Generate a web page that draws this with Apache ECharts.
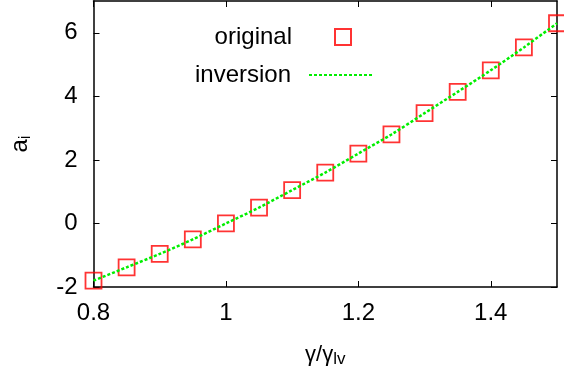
<!DOCTYPE html>
<html>
<head>
<meta charset="utf-8">
<script src="https://cdn.jsdelivr.net/npm/echarts@6/dist/echarts.min.js"></script>
<style>
  html, body { margin: 0; padding: 0; background: #fff; }
  #chart { width: 564px; height: 373px; }
</style>
</head>
<body>
<div id="chart"></div>
<script>
// 横轴 γ/γlv
const gammaRatio = [0.8, 0.85, 0.9, 0.95, 1.0, 1.05, 1.1, 1.15, 1.2, 1.25, 1.3, 1.35, 1.4, 1.45, 1.5];
// 原始系数
const originalValues = [-1.8, -1.38, -0.96, -0.5, 0.0, 0.5, 1.05, 1.6, 2.2, 2.8, 3.47, 4.14, 4.82, 5.54, 6.3];
// 反演结果
const inversionValues = [-1.8, -1.38, -0.96, -0.5, 0.0, 0.5, 1.05, 1.6, 2.2, 2.8, 3.47, 4.14, 4.82, 5.54, 6.3];
const xTicks = [0.8, 1, 1.2, 1.4];
const yTicks = [-2, 0, 2, 4, 6];

const font = 'Liberation Sans, Arial, sans-serif';
const chart = echarts.init(document.getElementById('chart'));

const pair = (xs, ys) => xs.map((x, i) => [x, ys[i]]);

const axisCommon = {
  axisLine: { show: true, onZero: false, lineStyle: { color: '#000', width: 1.5 } },
  axisTick: { show: true, inside: true, length: 6, lineStyle: { color: '#000', width: 1 } },
  splitLine: { show: false },
};

chart.setOption({
  animation: false,
  backgroundColor: '#fff',
  grid: { left: 92, right: 7, top: 1, bottom: 85, containLabel: false },
  legend: [
    {
      data: ['original'],
      align: 'right',
      padding: 0,
      right: 212,
      top: 25,
      itemWidth: 16,
      itemHeight: 16,
      textStyle: { fontFamily: font, fontSize: 24, color: '#000', padding: [0, 38, 0, 0] },
      selectedMode: false,
    },
    {
      data: ['inversion'],
      align: 'right',
      padding: 0,
      right: 190,
      top: 63,
      itemWidth: 64,
      itemHeight: 20,
      itemStyle: { opacity: 0 },
      textStyle: { fontFamily: font, fontSize: 24, color: '#000', padding: [0, 13, 0, 0] },
      selectedMode: false,
    },
  ],
  xAxis: [
    {
      ...axisCommon,
      type: 'value',
      min: 0.8,
      max: 1.5,
      interval: 0.2,
      name: 'γ/γ{sub|lv}',
      nameLocation: 'middle',
      nameGap: 54,
      nameTextStyle: {
        fontFamily: font, fontSize: 22, color: '#000',
        rich: { sub: { fontFamily: font, fontSize: 17, color: '#000', verticalAlign: 'bottom', padding: [10, 0, 0, 0] } },
      },
      axisLabel: {
        fontFamily: font, fontSize: 24, color: '#000', margin: 14,
        customValues: xTicks,
        formatter: v => String(Math.round(v * 10) / 10),
      },
      axisTick: { ...axisCommon.axisTick, customValues: xTicks },
    },
    {
      ...axisCommon,
      type: 'value',
      position: 'top',
      min: 0.8,
      max: 1.5,
      axisLabel: { show: false },
      axisTick: { ...axisCommon.axisTick, customValues: xTicks },
    },
  ],
  yAxis: [
    {
      ...axisCommon,
      type: 'value',
      min: -2,
      max: 7,
      name: 'a{sub|i}',
      nameLocation: 'middle',
      nameGap: 60,
      nameRotate: 90,
      nameTextStyle: {
        fontFamily: font, fontSize: 24, color: '#000',
        rich: { sub: { fontFamily: font, fontSize: 17, color: '#000', verticalAlign: 'bottom', padding: [10, 0, 0, 0] } },
      },
      axisLabel: {
        fontFamily: font, fontSize: 24, color: '#000', margin: 16,
        customValues: yTicks,
      },
      axisTick: { ...axisCommon.axisTick, customValues: yTicks },
    },
    {
      ...axisCommon,
      type: 'value',
      position: 'right',
      min: -2,
      max: 7,
      axisLabel: { show: false },
      axisTick: { ...axisCommon.axisTick, customValues: yTicks },
    },
  ],
  series: [
    {
      name: 'original',
      type: 'scatter',
      data: pair(gammaRatio, originalValues),
      symbol: 'rect',
      symbolSize: 16,
      itemStyle: { color: 'rgba(255,255,255,0)', borderColor: '#ff0000', borderWidth: 1.8 },
      z: 2,
    },
    {
      name: 'inversion',
      type: 'line',
      data: pair(gammaRatio, inversionValues),
      showSymbol: false,
      symbol: 'none',
      smooth: 0.3,
      lineStyle: { color: '#00ee00', width: 2.5, type: [3, 2] },
      itemStyle: { color: '#00ee00' },
      z: 3,
    },
  ],
});
</script>
</body>
</html>
